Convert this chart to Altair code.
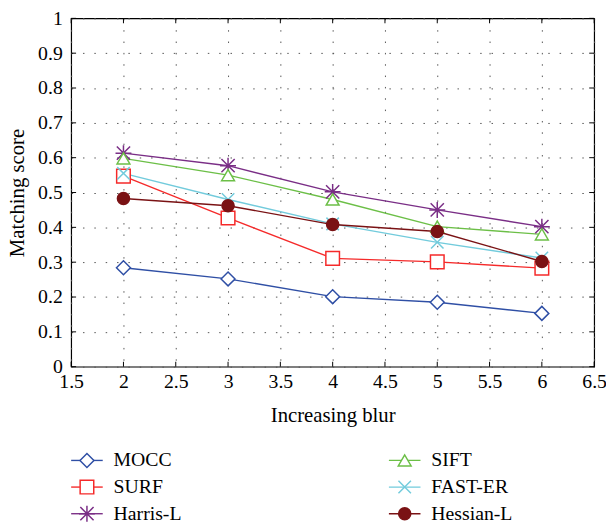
import altair as alt
import pandas as pd

# ---- data ----
blur = [2, 3, 4, 5, 6]
series = ["MOCC", "SURF", "Harris-L", "SIFT", "FAST-ER", "Hessian-L"]
mocc = [0.284, 0.252, 0.201, 0.185, 0.153]
surf = [0.547, 0.427, 0.311, 0.301, 0.283]
harris = [0.613, 0.577, 0.502, 0.450, 0.402]
sift = [0.598, 0.550, 0.480, 0.402, 0.380]
faster = [0.555, 0.480, 0.410, 0.357, 0.312]
hessian = [0.483, 0.462, 0.408, 0.388, 0.302]
x_ticks = [1.5, 2, 2.5, 3, 3.5, 4, 4.5, 5, 5.5, 6, 6.5]
y_ticks = [0, 0.1, 0.2, 0.3, 0.4, 0.5, 0.6, 0.7, 0.8, 0.9, 1]
legend_col = [0, 0, 0, 1, 1, 1]
legend_row = [0, 1, 2, 0, 1, 2]

# ---- styles ----
colors = ["#2f4fa5", "#f52a2a", "#7a2e86", "#6cbf47", "#72cbdc", "#7a1214"]
fills = ["white", "white", "white", "white", "white", "#7a1214"]
ASTER = "M-1,-1L1,1M-1,1L1,-1M0,-1.2L0,1.2M-1.2,0L1.2,0"
XPATH = "M-1,-1L1,1M-1,1L1,-1"
shapes = ["diamond", "square", ASTER, "triangle-up", XPATH, "circle"]
sizes = [200, 150, 200, 190, 200, 260]
FONT = "Liberation Serif"

W, H = 530, 353

rows = []
for name, vals in zip(series, [mocc, surf, harris, sift, faster, hessian]):
    for b, v in zip(blur, vals):
        rows.append({"series": name, "blur": b, "score": v})
df = pd.DataFrame(rows)

xsc = alt.Scale(domain=[1.5, 6.5], nice=False)
ysc = alt.Scale(domain=[0, 1], nice=False)
xax = alt.Axis(values=x_ticks, format="~g", titlePadding=14, labelPadding=5,
               labelOverlap=False, labelFlush=False, labelBound=False)
yax = alt.Axis(values=y_ticks, format="~g", titlePadding=10, labelPadding=9,
               labelOverlap=False, labelFlush=False, labelBound=False)
XT, YT = "Increasing blur", "Matching score"

col = alt.Color("series:N", scale=alt.Scale(domain=series, range=colors), legend=None)
stroke = alt.Stroke("series:N", scale=alt.Scale(domain=series, range=colors), legend=None)
fill = alt.Fill("series:N", scale=alt.Scale(domain=series, range=fills), legend=None)
shape = alt.Shape("series:N", scale=alt.Scale(domain=series, range=shapes), legend=None)
size = alt.Size("series:N", scale=alt.Scale(domain=series, range=sizes), legend=None)

base = alt.Chart(df)
lines = base.mark_line(strokeWidth=1.4).encode(
    x=alt.X("blur:Q", scale=xsc, title=XT, axis=xax),
    y=alt.Y("score:Q", scale=ysc, title=YT, axis=yax),
    color=col,
    detail="series:N",
)
points = base.mark_point(strokeWidth=1.5, opacity=1).encode(
    x=alt.X("blur:Q", scale=xsc, title=XT, axis=xax),
    y=alt.Y("score:Q", scale=ysc, title=YT, axis=yax),
    stroke=stroke, fill=fill, shape=shape, size=size,
    order=alt.Order("blur:Q"),
)

xt = alt.Chart(pd.DataFrame({"t": x_ticks}))
yt = alt.Chart(pd.DataFrame({"t": y_ticks}))
xtick_b = xt.mark_rule(color="black").encode(
    x=alt.X("t:Q", scale=xsc, title=XT, axis=xax), y=alt.value(H), y2=alt.value(H - 5))
xtick_t = xt.mark_rule(color="black").encode(
    x=alt.X("t:Q", scale=xsc, title=XT, axis=xax), y=alt.value(0), y2=alt.value(5))
ytick_l = yt.mark_rule(color="black").encode(
    y=alt.Y("t:Q", scale=ysc, title=YT, axis=yax), x=alt.value(0), x2=alt.value(5))
ytick_r = yt.mark_rule(color="black").encode(
    y=alt.Y("t:Q", scale=ysc, title=YT, axis=yax), x=alt.value(W), x2=alt.value(W - 5))

main = alt.layer(lines, points, xtick_b, xtick_t, ytick_l, ytick_r)

leg = pd.DataFrame({"series": series, "col": legend_col, "row": legend_row})
lx = alt.X("col:Q", scale=alt.Scale(domain=[0, 1], range=[16, 338]), axis=None)
ly = alt.Y("row:Q", scale=alt.Scale(domain=[0, 2], range=[448, 502]), axis=None)
lbase = alt.Chart(leg)
leg_line = lbase.mark_rule(strokeWidth=1.4, xOffset=-16, x2Offset=16).encode(
    x=lx, x2="col:Q", y=ly, color=col)
leg_pt = lbase.mark_point(strokeWidth=1.5, opacity=1).encode(
    x=lx, y=ly, stroke=stroke, fill=fill, shape=shape, size=size)
leg_txt = lbase.mark_text(align="left", baseline="middle", dx=27, font=FONT, fontSize=20,
                          color="black").encode(x=lx, y=ly, text="series:N")
legend = alt.layer(leg_line, leg_pt, leg_txt)

chart = alt.layer(main, legend).resolve_scale(x="independent", y="independent").properties(
    width=W, height=H,
    autosize=alt.AutoSizeParams(type="none"),
    padding={"left": 64, "top": 7, "right": 12, "bottom": 161},
).configure_view(stroke="black", strokeWidth=1.2).configure_axis(
    domain=False, ticks=False, grid=True, gridDash=[1.5, 10], gridColor="#555",
    gridWidth=1, labelFont=FONT, labelFontSize=20, labelColor="black",
    titleFont=FONT, titleFontSize=21, titleFontWeight="normal", titleColor="black",
)

chart.save("out.html", embed_options={"renderer": "svg", "actions": False})
